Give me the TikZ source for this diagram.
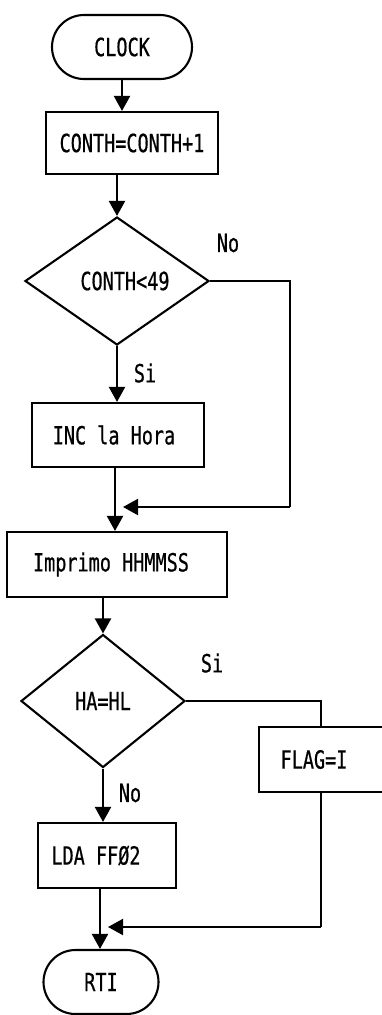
\documentclass[tikz,border=0pt]{standalone}
\usepackage{fontspec}
\newfontfamily\plotfont[FakeStretch=0.74,FakeBold=0.6]{DejaVu Sans Mono}
\usetikzlibrary{shapes.geometric,shapes.misc,arrows.meta}
\begin{document}
\begin{tikzpicture}[x=1pt,y=-1pt,
  every node/.style={font=\plotfont\fontsize{25}{27}\selectfont},
  ln/.style={line width=2.1pt},
  arr/.style={ln,-{Triangle[width=16pt,length=15pt]}},
  term/.style={draw,ln,rounded rectangle,minimum width=#1,minimum height=64pt,inner sep=0pt},
  proc/.style={draw,ln,rectangle,inner sep=0pt},
  dec/.style={draw,ln,diamond,inner sep=0pt},
  lbl/.style={inner sep=0pt}]
\useasboundingbox (0,0) rectangle (381,1015);
\fill[white] (0,0) rectangle (381,1015);
% nodes
\node[term=140pt] (clock) at (122,47) {CLOCK};
\node[proc,minimum width=172pt,minimum height=62pt] (b1) at (132,143) {CONTH=CONTH+1};
\node[dec,minimum width=184pt,minimum height=128pt] (d1) at (117,281) {\hspace*{16pt}CONTH<49};
\node[lbl] (no1) at (228,243) {No};
\node[lbl] (si1) at (145,373) {Si};
\node[proc,minimum width=172pt,minimum height=64pt] (b2) at (118,435) {INC la Hora\hspace*{8pt}};
\node[proc,minimum width=220pt,minimum height=65pt] (b3) at (117,564.5) {Imprimo HHMMSS\hspace*{12pt}};
\node[dec,minimum width=164pt,minimum height=133pt] (d2) at (103,701) {HA=HL};
\node[lbl] (si2) at (212,663) {Si};
\node[proc,minimum width=124pt,minimum height=65pt] (flag) at (321,759.5) {FLAG=I\hspace*{14pt}};
\node[lbl] (no2) at (130,793) {No};
\node[proc,minimum width=138pt,minimum height=65pt] (b4) at (107,855.5) {LDA FFØ2\hspace*{22pt}};
\node[term=115pt] (rti) at (101,982) {RTI};
% junctions
\coordinate (j1) at (115,507);
\coordinate (r1) at (290,507);
\coordinate (j2) at (100,927);
% connectors
\draw[arr] (clock.south) -- (clock.south |- b1.north);
\draw[arr] (d1.north |- b1.south) -- (d1.north);
\draw[arr] (d1.south) -- (d1.south |- b2.north);
\draw[ln] (j1 |- b2.south) -- (j1);
\draw[arr] (j1) -- (j1 |- b3.north);
\draw[ln] (d1.east) -| (r1);
\draw[arr,shorten >=8pt] (r1) -- (j1);
\draw[arr] (d2.north |- b3.south) -- (d2.north);
\draw[ln] (d2.east) -| (flag.north);
\draw[arr] (d2.south) -- (d2.south |- b4.north);
\draw[ln] (j2 |- b4.south) -- (j2);
\draw[arr] (j2) -- (j2 |- rti.north);
\draw[ln] (flag.south) -- (flag.south |- j2);
\draw[arr,shorten >=8pt] (flag.south |- j2) -- (j2);
\end{tikzpicture}
\end{document}
